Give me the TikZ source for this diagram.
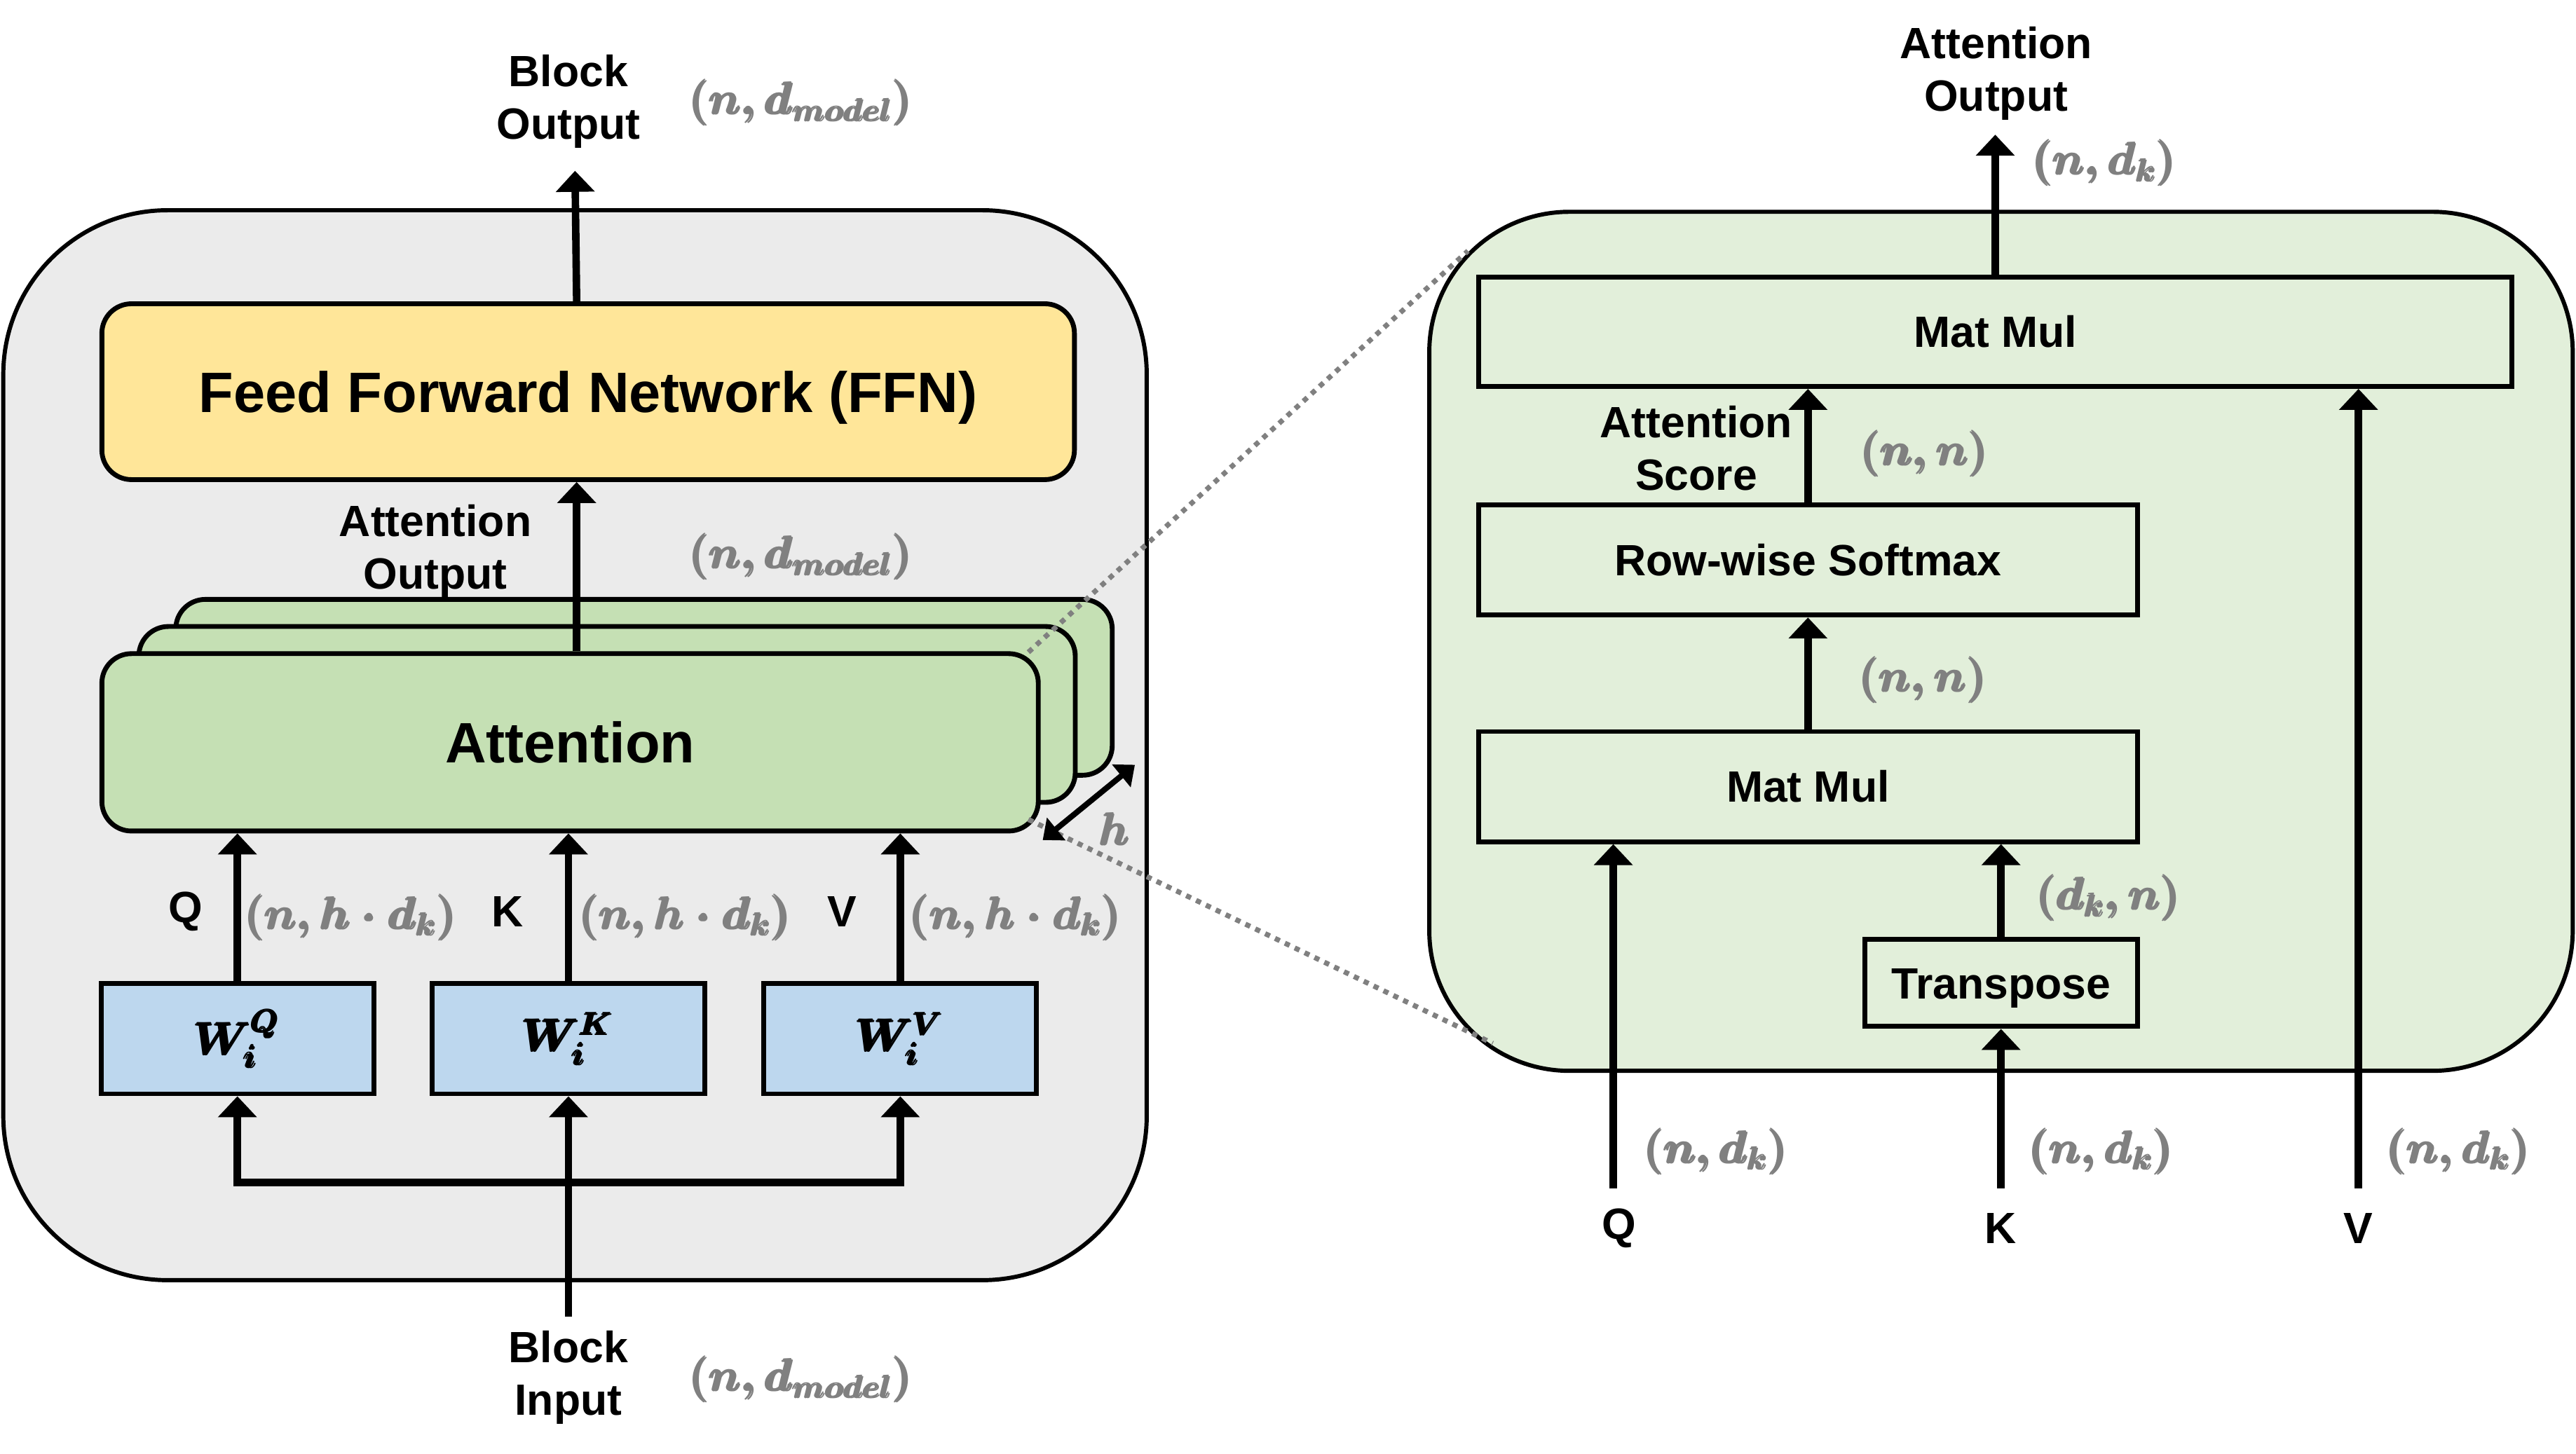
\documentclass[tikz,border=0pt]{standalone}
\usepackage{fontspec}
\setmainfont{Liberation Sans}
\usepackage{amsmath}
\usepackage{tikz}
\usetikzlibrary{arrows.meta,calc}

\definecolor{panelgray}{RGB}{235,235,235}
\definecolor{ffnyellow}{RGB}{255,230,153}
\definecolor{attgreen}{RGB}{197,224,180}
\definecolor{wblue}{RGB}{189,215,238}
\definecolor{zoomgreen}{RGB}{226,239,218}
\definecolor{dimgray}{RGB}{128,128,128}

\begin{document}
\begin{tikzpicture}[x=0.75pt,y=0.75pt,yscale=-1,xscale=1,
    panel/.style={draw, line width=1.9pt, rounded corners=75pt, inner sep=0pt},
    blk/.style={draw, line width=2.2pt, inner sep=0pt, text height=14.3pt, text depth=0pt, font=\bfseries\fontsize{20pt}{24pt}\selectfont},
    big/.style={text height=18.6pt, font=\bfseries\fontsize{26pt}{31pt}\selectfont},
    wbox/.style={draw, line width=2.2pt, inner sep=0pt, fill=wblue, minimum width=124.5pt, minimum height=50.3pt, font=\boldmath\fontsize{22pt}{26pt}\selectfont},
    flow/.style={line width=3.4pt, -{Triangle[length=9.6pt,width=17.3pt]}},
    lbl/.style={inner sep=0pt, align=center, font=\bfseries\fontsize{20pt}{24pt}\selectfont},
    dims/.style={inner sep=0pt, text=dimgray, font=\boldmath\fontsize{19.5pt}{23pt}\selectfont},
    zoomline/.style={draw=dimgray, line width=2.3pt, dash pattern=on 2.4pt off 2.6pt}]
        \useasboundingbox (0,0) rectangle (1568,885.3);
        %Shape: Rounded Rect [id:blockpanel]
        \node (blockpanel) at (350,453.75) [panel, fill=panelgray, minimum width=522pt, minimum height=488.6pt] {};
        %Shape: Rounded Rect [id:attpanel]
        \node (attpanel) at (1218,390.5) [panel, rounded corners=64pt, fill=zoomgreen, minimum width=522pt, minimum height=392.3pt] {};
        %Shape: Rounded Rect [id:ffn]
        \node (ffn) at (358,238.5) [blk, big, rounded corners=13.5pt, fill=ffnyellow, minimum width=444pt, minimum height=80.3pt] {Feed Forward Network (FFN)};
        %Shape: Rounded Rect [id:att3] 
        \node (att3) at (392,418.5) [blk, rounded corners=13.5pt, fill=attgreen, minimum width=427.5pt, minimum height=80.3pt] {};
        %Shape: Rounded Rect [id:att2] 
        \node (att2) at (369.5,435) [blk, rounded corners=13.5pt, fill=attgreen, minimum width=427.5pt, minimum height=80.3pt] {};
        %Straight Lines [id:zoom lines] 
        \coordinate (zoomA) at (893.5,152.8);
        \coordinate (zoomB) at (908.6,635.3);
        %Shape: Rounded Rect [id:att1] 
        \node (att1) at (347,452) [blk, big, rounded corners=13.5pt, fill=attgreen, minimum width=427.5pt, minimum height=81pt] {Attention};
        \draw [zoomline] ($(att1.north east)+(-7.5,0.6)$) -- (zoomA);
        \draw [zoomline] ($(att1.south east)+(-7.5,-8.5)$) -- (zoomB);
        %Shape: Rectangle [id:wq wk wv] 
        \node (wq) at (144.5,632.5) [wbox] {$\pmb{W_i^Q}$};
        \node (wk) at (346,632.5) [wbox] {$\pmb{W_i^K}$};
        \node (wv) at (548,632.5) [wbox] {$\pmb{W_i^V}$};
        %Shape: Rectangle [id:right panel boxes] 
        \node (mm2) at (1214.5,202) [blk, minimum width=471.8pt, minimum height=50pt] {Mat Mul};
        \node (sm) at (1100.5,341) [blk, minimum width=300.8pt, minimum height=50.3pt] {Row-wise Softmax};
        \node (mm1) at (1100.5,479) [blk, minimum width=300.8pt, minimum height=50.3pt] {Mat Mul};
        \node (tp) at (1218,598.5) [blk, minimum width=124.5pt, minimum height=39.8pt] {Transpose};
        % Text Node
        \node (blockout) at (346,61.6) [lbl] {Block\\Output};
        \node (attout) at (265,335.6) [lbl] {Attention\\Output};
        \node (blockin) at (346,838.6) [lbl] {Block\\Input};
        \node (qname) at (113,555) [lbl] {Q};
        \node (kname) at (309,555) [lbl] {K};
        \node (vname) at (512.5,555) [lbl] {V};
        \node (scoreout) at (1215,44.6) [lbl] {Attention\\Output};
        \node (score) at (1032.5,272.9) [lbl] {Attention\\Score};
        \node (qin) at (985.5,748) [lbl] {Q};
        \node (kin) at (1217.8,748) [lbl] {K};
        \node (vin) at (1435.6,748) [lbl] {V};
        % Text Node
        \node (outdim) at (488,62.5) [dims] {$\pmb{(n, d_{model})}$};
        \node (attdim) at (488,339) [dims] {$\pmb{(n, d_{model})}$};
        \node (indim) at (488,840) [dims] {$\pmb{(n, d_{model})}$};
        \node (qdim) at (214,558.5) [dims] {$\pmb{(n, h\cdot d_k)}$};
        \node (kdim) at (417.5,558.5) [dims] {$\pmb{(n, h\cdot d_k)}$};
        \node (vdim) at (618.7,558.5) [dims] {$\pmb{(n, h\cdot d_k)}$};
        \node (hcount) at (679,504.7) [dims] {$\pmb{h}$};
        \node (mm2dim) at (1281.6,99.3) [dims] {$\pmb{(n, d_k)}$};
        \node (smdim) at (1172,276) [dims] {$\pmb{(n, n)}$};
        \node (mm1dim) at (1171,414) [dims] {$\pmb{(n, n)}$};
        \node (tpdim) at (1284,546.6) [dims] {$\pmb{(d_k, n)}$};
        \node (qindim) at (1045,701) [dims] {$\pmb{(n, d_k)}$};
        \node (kindim) at (1279.5,701) [dims] {$\pmb{(n, d_k)}$};
        \node (vindim) at (1497,701) [dims] {$\pmb{(n, d_k)}$};
        %Straight Lines [id:left arrows] 
        \coordinate (inp) at (346,801.6);
        \coordinate (bus) at (346,720);
        \coordinate (attup) at ($(att1.north)+(4,0)$);
        \coordinate (outtip) at (350,104);
        \draw [flow] (inp) -- (wk.south);
        \draw [flow] (bus) -| (wq.south);
        \draw [flow] (bus) -| (wv.south);
        \draw [flow] (wq.north) -- (wq.north |- att1.south);
        \draw [flow] (wk.north) -- (wk.north |- att1.south);
        \draw [flow] (wv.north) -- (wv.north |- att1.south);
        \draw [flow] (attup) -- (attup |- ffn.south);
        \draw [flow] (attup |- ffn.north) -- (outtip);
        \draw [line width=2.6pt, {Triangle[length=8pt,width=13pt]}-{Triangle[length=8pt,width=13pt]}] (634.7,511.5) coordinate (hlow) -- (690.8,465.7) coordinate (hhigh);
        %Straight Lines [id:right arrows] 
        \coordinate (qfoot) at (982,723.6);
        \coordinate (kfoot) at (1218,723.6);
        \coordinate (vfoot) at (1435.6,723.6);
        \coordinate (scoretip) at (1214.5,82);
        \draw [flow] (mm2.north) -- (scoretip);
        \draw [flow] (sm.north) -- (mm2.south -| sm.north);
        \draw [flow] (mm1.north) -- (sm.south);
        \draw [flow] (tp.north) -- (tp.north |- mm1.south);
        \draw [flow] (qfoot) -- (qfoot |- mm1.south);
        \draw [flow] (kfoot) -- (tp.south);
        \draw [flow] (vfoot) -- (vfoot |- mm2.south);
\end{tikzpicture}
\end{document}
